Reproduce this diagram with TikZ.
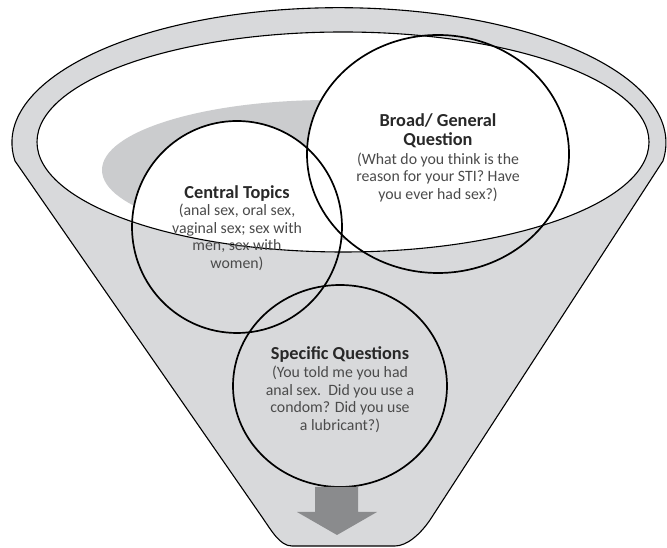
\documentclass[tikz,border=0pt]{standalone}
\usepackage{fontspec}
\setmainfont{Carlito}
\usetikzlibrary{shapes.geometric}
\definecolor{funnelgray}{RGB}{216,217,219}
\definecolor{shadowgray}{RGB}{203,204,206}
\definecolor{arrowgray}{RGB}{138,139,141}
\definecolor{titlecol}{RGB}{40,40,40}
\definecolor{bodycol}{RGB}{75,75,75}
\newcommand{\ttlf}{\fontsize{18.3}{17.5}\selectfont\bfseries\color{titlecol}}
\newcommand{\bdyf}{\fontsize{15.8}{17.5}\selectfont\mdseries\color{bodycol}}
\tikzset{
  rimline/.style={draw=black, line width=1.1pt},
  bubble/.style={ellipse, draw=black, line width=1.7pt, inner sep=0pt},
  bubbletext/.style={align=center, inner sep=0pt, font=\fontsize{15.8}{17.5}\selectfont},
}
\begin{document}
\begin{tikzpicture}[x=1pt,y=1pt]
\useasboundingbox (0,0) rectangle (667,548);
% funnel body
\path[rimline, fill=funnelgray]
  (15,387) arc[start angle=187.8, end angle=-7.8, x radius=327, y radius=135]
  -- (430,28) .. controls (420.5,14) and (407,2) .. (395,2)
  -- (292,2) .. controls (280,2) and (271.7,17) .. (262,31) -- cycle;
% inner opening
\fill[white] (343,406) ellipse[x radius=306, y radius=110];
\begin{scope}
  \clip (343,406) ellipse[x radius=306, y radius=110];
  \fill[shadowgray] (330,378) ellipse[x radius=228, y radius=70];
  \fill[white] (438,394) ellipse[x radius=131, y radius=119];
  \fill[white] (237,321) ellipse[x radius=105, y radius=106];
\end{scope}
\draw[rimline] (343,406) ellipse[x radius=306, y radius=110];
% bubbles
\node[bubble, minimum width=210pt, minimum height=212pt] (central) at (237,321) {};
\node[bubble, minimum width=262pt, minimum height=238pt] (broad) at (438,394) {};
\node[bubble, minimum width=214pt, minimum height=202pt] (specific) at (340,162) {};
% texts
\node[bubbletext] (centraltxt) at ([yshift=-1pt]central.center)
  {\ttlf Central Topics\\[-0.5pt]
   \bdyf (anal sex, oral sex,\\ \bdyf vaginal sex; sex with\\ \bdyf men, sex with\\ \bdyf women)};
\node[bubbletext] (broadtxt) at ([yshift=-3.5pt]broad.center)
  {\ttlf Broad/ General\\[1.5pt] \ttlf Question\\[1.5pt]
   \bdyf (What do you think is the\\ \bdyf reason for your STI? Have\\ \bdyf you ever had sex?)};
\node[bubbletext] (specifictxt) at ([yshift=-3.5pt]specific.center)
  {\ttlf Specific Questions\\[1pt]
   \bdyf (You told me you had\\ \bdyf anal sex.\ \ Did you use a\\ \bdyf condom? Did you use\\ \bdyf a lubricant?)};
% arrow
\fill[arrowgray] (315,61) -- (358,61) -- (358,36) -- (377,36) -- (337,13) -- (297,36) -- (315,36) -- cycle;
\end{tikzpicture}
\end{document}
